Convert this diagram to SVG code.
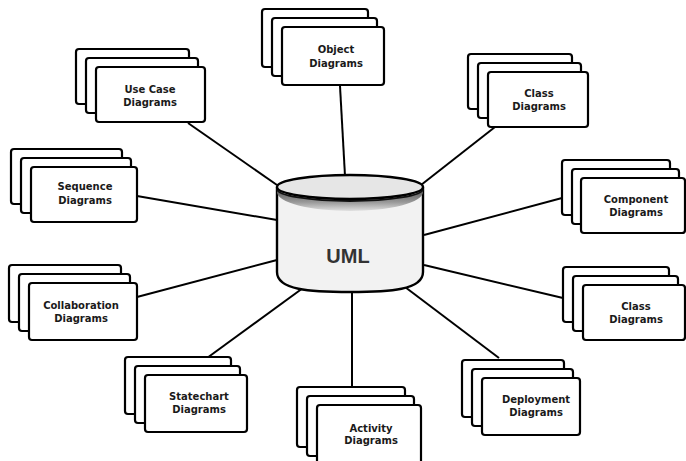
<svg xmlns="http://www.w3.org/2000/svg" width="686" height="461" viewBox="0 0 686 461">
<style>
  .card{fill:#fff;stroke:#000;stroke-width:2.2}
  .lbl{font-family:"DejaVu Sans",sans-serif;font-size:10px;font-weight:bold;fill:#1a1a1a;text-anchor:middle}
  .conn line{stroke:#000;stroke-width:2}
  .cyl{stroke:#000;stroke-width:2.4}
</style>
<defs>
  <linearGradient id="band" x1="0" y1="0" x2="0" y2="1">
    <stop offset="0" stop-color="#555"/>
    <stop offset="0.6" stop-color="#999"/>
    <stop offset="1" stop-color="#e0e0e0"/>
  </linearGradient>
</defs>
<rect width="686" height="461" fill="#fff"/>
<g id="connectors" class="conn">
  <line x1="345" y1="176" x2="340" y2="86"/>
  <line x1="277" y1="185" x2="188" y2="123"/>
  <line x1="421" y1="185" x2="495" y2="127"/>
  <line x1="277" y1="220" x2="137" y2="196"/>
  <line x1="424" y1="235" x2="562" y2="198"/>
  <line x1="277" y1="260" x2="137" y2="297"/>
  <line x1="424" y1="265" x2="563" y2="298"/>
  <line x1="303" y1="288" x2="207" y2="358"/>
  <line x1="352" y1="292" x2="352" y2="387"/>
  <line x1="405" y1="287" x2="499" y2="358"/>
</g>
<g id="uml">
  <path class="cyl" fill="#f2f2f2" d="M277,188 V272 C277,290 310,292 350,292 C390,292 423,290 423,272 V188 Z"/>
  <path fill="url(#band)" d="M277,189 A73,12 0 0 0 423,189 V192 A73,19 0 0 1 277,192 Z"/>
  <path d="M277,189 A73,12 0 0 0 423,189" fill="none" stroke="#111" stroke-width="1.8"/>
  <ellipse class="cyl" cx="350" cy="187" rx="73" ry="12" fill="#e6e6e6"/>
  <text x="348" y="263" font-family="'Liberation Sans',Arial,sans-serif" font-size="20" font-weight="bold" fill="#333" text-anchor="middle">UML</text>
</g>
<g id="object">
  <rect class="card" x="262" y="9" width="106" height="58" rx="3"/>
  <rect class="card" x="272" y="18" width="105" height="58" rx="3"/>
  <rect class="card" x="282" y="27" width="102" height="58" rx="3"/>
  <text class="lbl" x="336" y="53">Object</text>
  <text class="lbl" x="336" y="67">Diagrams</text>
</g>
<g id="usecase">
  <rect class="card" x="76" y="49" width="113" height="55" rx="3"/>
  <rect class="card" x="86" y="58" width="112" height="55" rx="3"/>
  <rect class="card" x="96" y="67" width="109" height="55" rx="3"/>
  <text class="lbl" x="150" y="93">Use Case</text>
  <text class="lbl" x="150" y="106">Diagrams</text>
</g>
<g id="class-top">
  <rect class="card" x="468" y="54" width="104" height="55" rx="3"/>
  <rect class="card" x="478" y="63" width="103" height="55" rx="3"/>
  <rect class="card" x="488" y="72" width="100" height="55" rx="3"/>
  <text class="lbl" x="539" y="97">Class</text>
  <text class="lbl" x="539" y="110">Diagrams</text>
</g>
<g id="sequence">
  <rect class="card" x="11" y="149" width="111" height="55" rx="3"/>
  <rect class="card" x="21" y="158" width="110" height="55" rx="3"/>
  <rect class="card" x="31" y="167" width="106" height="55" rx="3"/>
  <text class="lbl" x="85" y="190">Sequence</text>
  <text class="lbl" x="85" y="204">Diagrams</text>
</g>
<g id="component">
  <rect class="card" x="562" y="160" width="108" height="55" rx="3"/>
  <rect class="card" x="572" y="169" width="107" height="55" rx="3"/>
  <rect class="card" x="581" y="178" width="104" height="55" rx="3"/>
  <text class="lbl" x="636" y="203">Component</text>
  <text class="lbl" x="636" y="216">Diagrams</text>
</g>
<g id="collaboration">
  <rect class="card" x="9" y="265" width="112" height="57" rx="3"/>
  <rect class="card" x="19" y="274" width="111" height="57" rx="3"/>
  <rect class="card" x="29" y="283" width="108" height="57" rx="3"/>
  <text class="lbl" x="81" y="309">Collaboration</text>
  <text class="lbl" x="81" y="322">Diagrams</text>
</g>
<g id="class-right">
  <rect class="card" x="563" y="267" width="106" height="55" rx="3"/>
  <rect class="card" x="573" y="276" width="105" height="55" rx="3"/>
  <rect class="card" x="583" y="285" width="102" height="55" rx="3"/>
  <text class="lbl" x="636" y="310">Class</text>
  <text class="lbl" x="636" y="323">Diagrams</text>
</g>
<g id="statechart">
  <rect class="card" x="125" y="357" width="106" height="57" rx="3"/>
  <rect class="card" x="135" y="366" width="105" height="57" rx="3"/>
  <rect class="card" x="145" y="375" width="102" height="57" rx="3"/>
  <text class="lbl" x="199" y="400">Statechart</text>
  <text class="lbl" x="199" y="413">Diagrams</text>
</g>
<g id="activity">
  <rect class="card" x="297" y="387" width="108" height="60" rx="3"/>
  <rect class="card" x="307" y="396" width="107" height="60" rx="3"/>
  <rect class="card" x="317" y="405" width="104" height="60" rx="3"/>
  <text class="lbl" x="371" y="432">Activity</text>
  <text class="lbl" x="371" y="444">Diagrams</text>
</g>
<g id="deployment">
  <rect class="card" x="462" y="360" width="102" height="57" rx="3"/>
  <rect class="card" x="472" y="369" width="101" height="57" rx="3"/>
  <rect class="card" x="482" y="378" width="98" height="57" rx="3"/>
  <text class="lbl" x="536" y="403">Deployment</text>
  <text class="lbl" x="536" y="416">Diagrams</text>
</g>
</svg>
